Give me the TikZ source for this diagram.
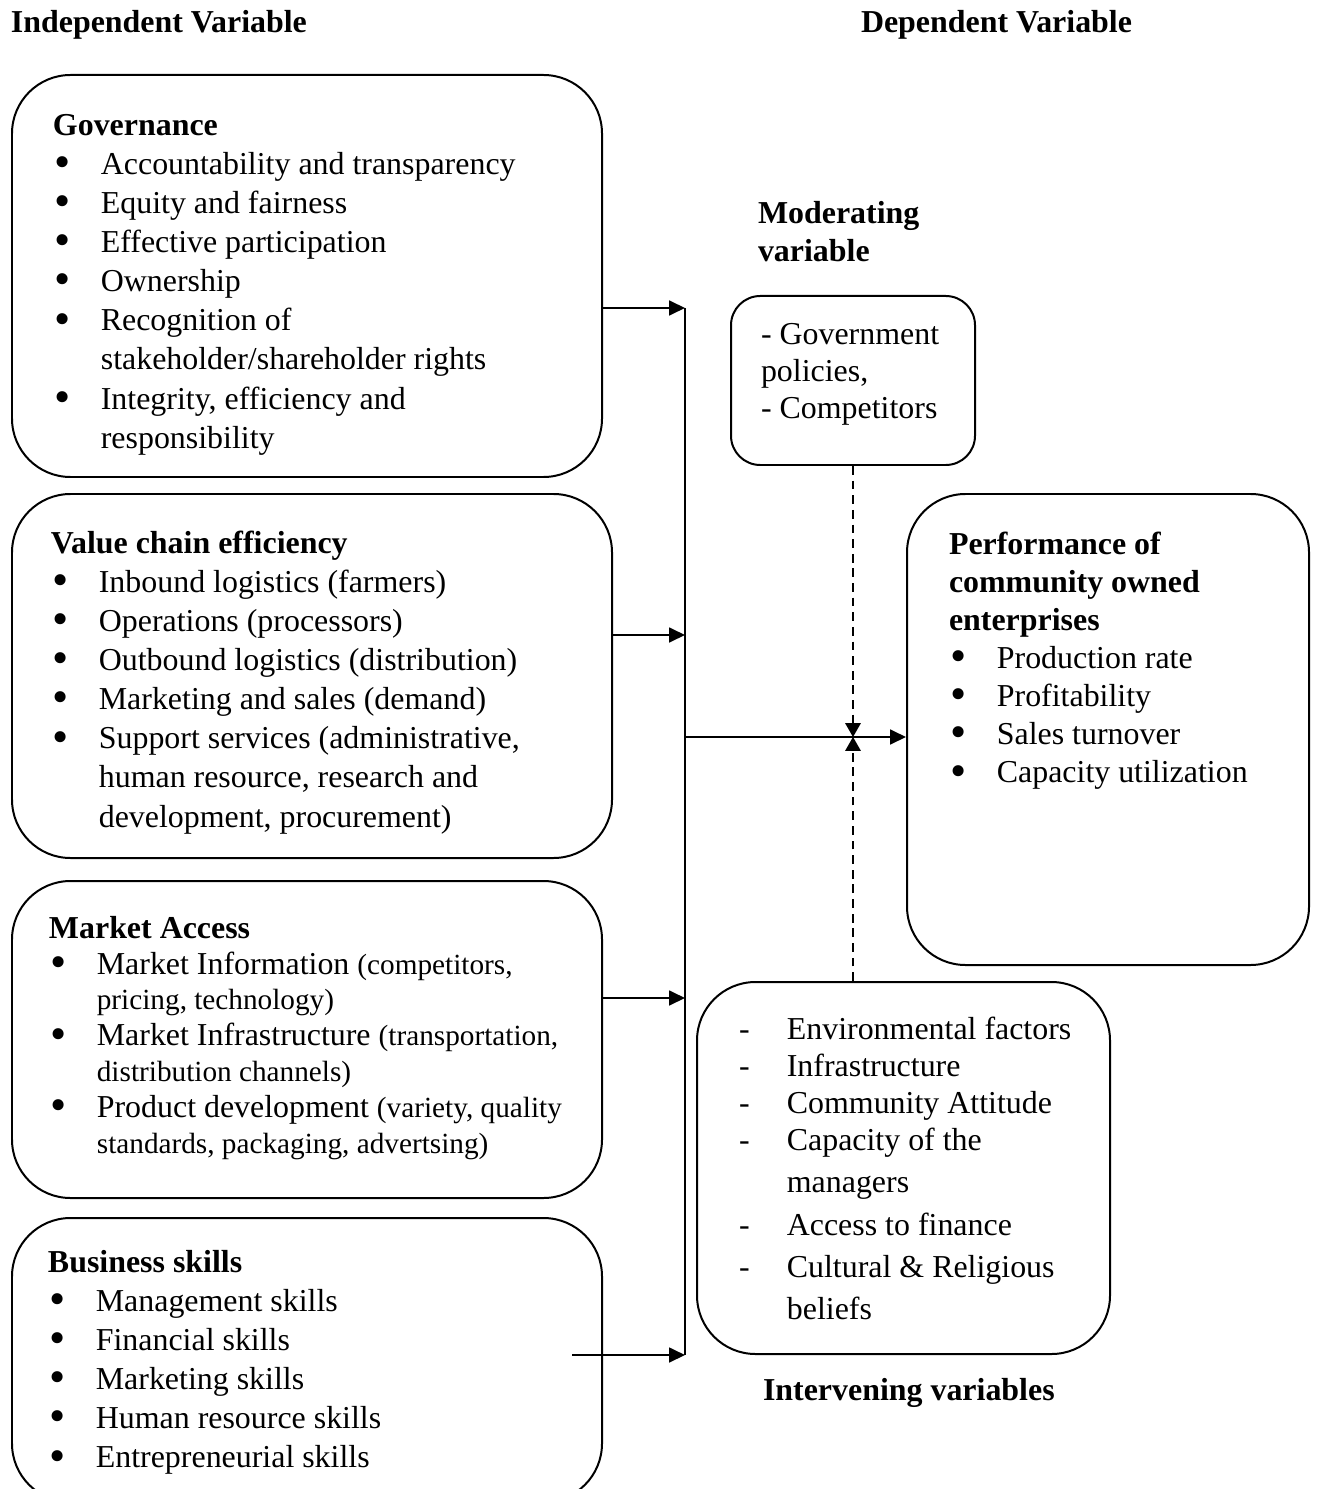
\documentclass[tikz,border=0pt]{standalone}
\usepackage{fontspec}
\setmainfont{Liberation Serif}
\usetikzlibrary{arrows.meta, fit}

\newcommand{\itembul}{\hspace*{0.6pt}\smash{\raisebox{-1.2pt}{\scalebox{1.45}{\textbullet}}}}

\begin{document}
\begin{tikzpicture}[
    x=0.376pt, y=-0.376pt,
    line width=0.75pt,
    varbox/.style={draw, rounded corners=22pt, inner sep=0pt},
    modbox/.style={draw, rounded corners=11pt, inner sep=0pt},
    boxtext/.style={anchor=north west, inner sep=0pt, align=left},
    link/.style={-{Triangle[length=6pt, width=5.6pt]}},
    modlink/.style={-{Triangle[length=5.2pt, width=5.8pt]}, line width=0.6pt, dash pattern=on 3.3pt off 2.2pt}
]
    \path[use as bounding box, clip] (0,0) rectangle (1317,1489);

    % Column headings
    \node[boxtext, font=\fontsize{12}{14.7}\selectfont\bfseries] (indep) at (10,4) {\strut Independent Variable};
    \node[boxtext, font=\fontsize{12}{14.7}\selectfont\bfseries] (dep) at (860,4) {\strut Dependent Variable};

    % Independent variable boxes
    \node[varbox, fit={(12,75) (602,477)}] (gov) {};
    \node[varbox, fit={(12,494) (612,858)}] (vc) {};
    \node[varbox, fit={(12,881) (602,1198)}] (mkt) {};
    \node[varbox, fit={(12,1218) (602,1502)}] (skill) {};

    \node[boxtext, font=\fontsize{12}{14.7}\selectfont] (govtext) at (52,107) {%
    \begin{tabular}{@{}p{18pt}@{}l@{}}
    \multicolumn{2}{@{}l@{}}{\textbf{Governance}}\\
    \itembul & Accountability and transparency\\
    \itembul & Equity and fairness\\
    \itembul & Effective participation\\
    \itembul & Ownership\\
    \itembul & Recognition of\\
             & stakeholder/shareholder rights\\
    \itembul & Integrity, efficiency and\\
             & responsibility
    \end{tabular}};

    \node[boxtext, font=\fontsize{12}{14.7}\selectfont] (vctext) at (50,525) {%
    \begin{tabular}{@{}p{18pt}@{}l@{}}
    \multicolumn{2}{@{}l@{}}{\textbf{Value chain efficiency}}\\
    \itembul & Inbound logistics (farmers)\\
    \itembul & Operations (processors)\\
    \itembul & Outbound logistics (distribution)\\
    \itembul & Marketing and sales (demand)\\
    \itembul & Support services (administrative,\\
             & human resource, research and\\
             & development, procurement)
    \end{tabular}};

    \node[boxtext, font=\fontsize{12}{13.5}\selectfont] (mkttext) at (48,912) {%
    \begin{tabular}{@{}p{18pt}@{}l@{}}
    \multicolumn{2}{@{}l@{}}{\textbf{Market Access}}\\
    \itembul & Market Information {\fontsize{11}{13.5}\selectfont(competitors,}\\
             & {\fontsize{11}{13.5}\selectfont pricing, technology)}\\
    \itembul & Market Infrastructure {\fontsize{11}{13.5}\selectfont(transportation,}\\
             & {\fontsize{11}{13.5}\selectfont distribution channels)}\\
    \itembul & Product development {\fontsize{11}{13.5}\selectfont(variety, quality}\\
             & {\fontsize{11}{13.5}\selectfont standards, packaging, advertsing)}
    \end{tabular}};

    \node[boxtext, font=\fontsize{12}{14.7}\selectfont] (skilltext) at (47,1244) {%
    \begin{tabular}{@{}p{18pt}@{}l@{}}
    \multicolumn{2}{@{}l@{}}{\textbf{Business skills}}\\
    \itembul & Management skills\\
    \itembul & Financial skills\\
    \itembul & Marketing skills\\
    \itembul & Human resource skills\\
    \itembul & Entrepreneurial skills
    \end{tabular}};

    % Moderating variable
    \node[boxtext, font=\fontsize{12}{14.3}\selectfont\bfseries] (modlabel) at (757,196) {%
    \begin{tabular}{@{}l@{}}Moderating\\variable\end{tabular}};
    \node[modbox, fit={(731,296) (975,465)}] (mod) {};
    \node[boxtext, font=\fontsize{12}{13.9}\selectfont] (modtext) at (760,318) {%
    \begin{tabular}{@{}l@{}}- Government\\policies,\\- Competitors\end{tabular}};

    % Dependent variable
    \node[varbox, fit={(907,494) (1309,965)}] (perf) {};
    \node[boxtext, font=\fontsize{12}{14.3}\selectfont] (perftext) at (948,527) {%
    \begin{tabular}{@{}p{18pt}@{}l@{}}
    \multicolumn{2}{@{}l@{}}{\textbf{Performance of}}\\
    \multicolumn{2}{@{}l@{}}{\textbf{community owned}}\\
    \multicolumn{2}{@{}l@{}}{\textbf{enterprises}}\\
    \itembul & Production rate\\
    \itembul & Profitability\\
    \itembul & Sales turnover\\
    \itembul & Capacity utilization
    \end{tabular}};

    % Intervening variables
    \node[varbox, fit={(697,982) (1110,1354)}] (interv) {};
    \node[boxtext, font=\fontsize{12}{14}\selectfont] (intervtext) at (738,1012) {%
    \begin{tabular}{@{}p{18pt}@{}l@{}}
    - & Environmental factors\\
    - & Infrastructure\\
    - & Community Attitude\\
    - & Capacity of the\\[1.8pt]
      & managers\\[2.2pt]
    - & Access to finance\\[1.8pt]
    - & Cultural \& Religious\\[1.8pt]
      & beliefs
    \end{tabular}};
    \node[boxtext, font=\fontsize{12}{14.7}\selectfont\bfseries] (intervlabel) at (762,1372) {\strut Intervening variables};

    % Connectors
    \coordinate (bustop) at (685,308);
    \coordinate (busvc) at (685,635);
    \coordinate (busmkt) at (685,998);
    \coordinate (busbot) at (685,1355);
    \coordinate (busmid) at (685,737);
    \coordinate (skillstart) at (572,1355);
    \coordinate (meet) at (853,737);

    \draw (bustop) -- (busbot);
    \draw[link] (gov.east |- bustop) -- (bustop);
    \draw[link] (vc.east |- busvc) -- (busvc);
    \draw[link] (mkt.east |- busmkt) -- (busmkt);
    \draw[link] (skillstart) -- (busbot);
    \draw[link] (busmid) -- (perf.west |- busmid);

    \draw[modlink] (mod.south -| meet) -- (meet);
    \draw[modlink] (interv.north -| meet) -- (meet);

\end{tikzpicture}
\end{document}
